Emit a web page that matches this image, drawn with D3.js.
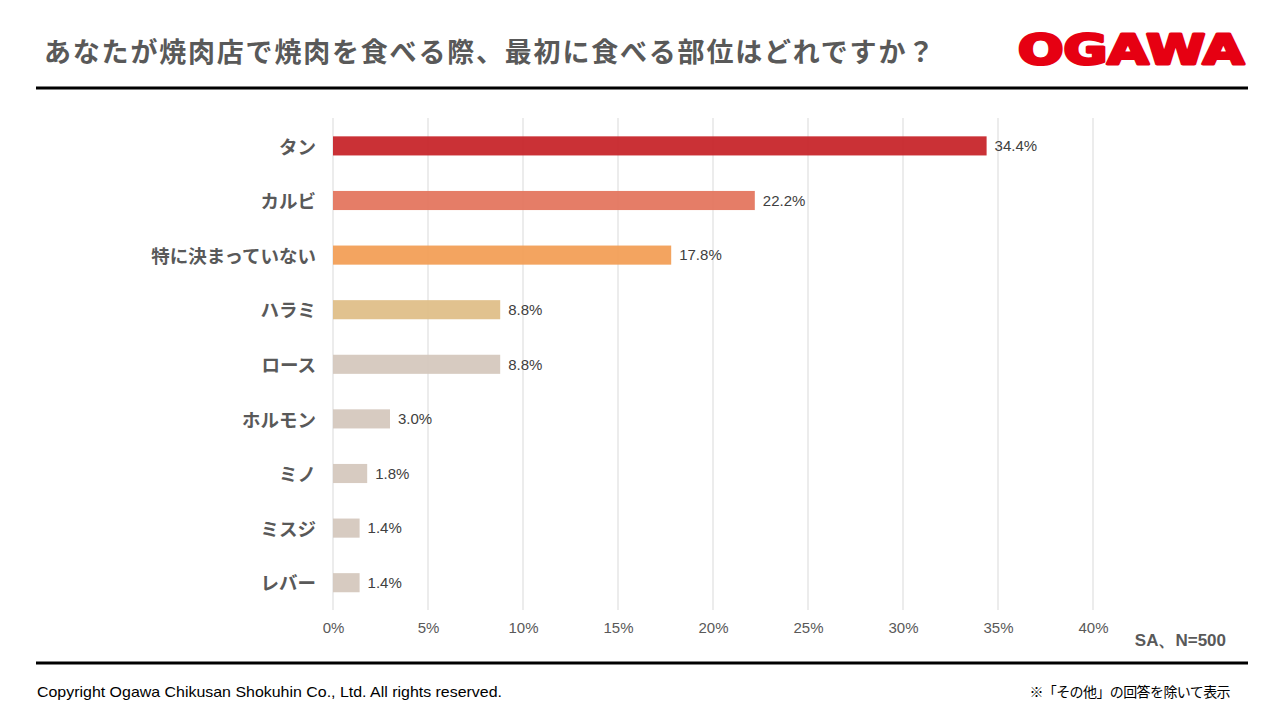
<!DOCTYPE html>
<html>
<head>
<meta charset="utf-8">
<script src="https://cdn.jsdelivr.net/npm/d3@7"></script>
<style>
body { margin: 0; background: #fff; }
svg { display: block; }
</style>
</head>
<body>
<svg id="chart" width="1280" height="720"></svg>
<script>
// data
var categories = ["タン", "カルビ", "特に決まっていない", "ハラミ", "ロース", "ホルモン", "ミノ", "ミスジ", "レバー"];
var values = [34.4, 22.2, 17.8, 8.8, 8.8, 3.0, 1.8, 1.4, 1.4];
var barColors = ["#C62025", "#E3725A", "#F29C52", "#DEBD85", "#D4C7BC", "#D4C7BC", "#D4C7BC", "#D4C7BC", "#D4C7BC"];
var xTicks = [0, 5, 10, 15, 20, 25, 30, 35, 40];

var title = "あなたが焼肉店で焼肉を食べる際、最初に食べる部位はどれですか？";
var copyright = "Copyright Ogawa Chikusan Shokuhin Co., Ltd. All rights reserved.";
var note = "※「その他」の回答を除いて表示";
var sample = "SA、N=500";

var jp = "'Noto Sans CJK JP', sans-serif";
var latin = "'Liberation Sans', Arial, sans-serif";

var svg = d3.select("#chart");

// header
svg.append("text")
	.attr("x", 44).attr("y", 62)
	.attr("font-family", jp).attr("font-weight", "bold")
	.attr("font-size", 27).attr("fill", "#595959")
	.attr("letter-spacing", 1.8)
	.text(title);

svg.append("text")
	.attr("x", 1018).attr("y", 64)
	.attr("font-family", "'DejaVu Sans', sans-serif").attr("font-weight", "bold")
	.attr("font-size", 41).attr("fill", "#E60012")
	.attr("stroke", "#E60012").attr("stroke-width", 3).attr("stroke-linejoin", "round")
	.attr("textLength", 226).attr("lengthAdjust", "spacingAndGlyphs")
	.text("OGAWA");

svg.append("line")
	.attr("x1", 36).attr("x2", 1248).attr("y1", 88).attr("y2", 88)
	.attr("stroke", "#000").attr("stroke-width", 3);
svg.append("line")
	.attr("x1", 36).attr("x2", 1248).attr("y1", 663).attr("y2", 663)
	.attr("stroke", "#000").attr("stroke-width", 3);

// scales
var x = d3.scaleLinear().domain([0, 40]).range([333, 1093]);
var y = d3.scaleBand().domain(categories).range([118.6, 610])
	.paddingInner(0.65).paddingOuter(0.325);

// grid
svg.append("g").selectAll("line")
	.data(xTicks).enter().append("line")
	.attr("x1", function(d){ return x(d); })
	.attr("x2", function(d){ return x(d); })
	.attr("y1", 118).attr("y2", 610)
	.attr("stroke", "#D9D9D9").attr("stroke-width", 1);

// bars
svg.append("g").selectAll("rect")
	.data(values).enter().append("rect")
	.attr("x", x(0))
	.attr("y", function(d, i){ return y(categories[i]); })
	.attr("width", function(d){ return x(d) - x(0); })
	.attr("height", y.bandwidth())
	.attr("fill", function(d, i){ return barColors[i]; })
	.attr("fill-opacity", 0.92);

// value labels
svg.append("g").selectAll("text")
	.data(values).enter().append("text")
	.attr("x", function(d){ return x(d) + 8; })
	.attr("y", function(d, i){ return y(categories[i]) + y.bandwidth() / 2; })
	.attr("dy", "0.35em")
	.attr("font-family", latin).attr("font-size", 15).attr("fill", "#404040")
	.text(function(d){ return d.toFixed(1) + "%"; });

// category axis
var yAxis = svg.append("g")
	.attr("transform", "translate(333,0)")
	.call(d3.axisLeft(y).tickSize(0).tickPadding(17));
yAxis.select(".domain").remove();
yAxis.selectAll("text")
	.attr("font-family", jp).attr("font-weight", "bold")
	.attr("font-size", 18.5).attr("fill", "#595959")
	.attr("dy", "0.42em");

// value axis
var xAxis = svg.append("g")
	.attr("transform", "translate(0,610)")
	.call(d3.axisBottom(x).tickValues(xTicks).tickSize(0).tickPadding(12)
		.tickFormat(function(d){ return d + "%"; }));
xAxis.select(".domain").remove();
xAxis.selectAll("text")
	.attr("font-family", latin).attr("font-size", 15).attr("fill", "#595959");

svg.append("text")
	.attr("x", 1226).attr("y", 646).attr("text-anchor", "end")
	.attr("font-family", latin).attr("font-weight", "bold")
	.attr("font-size", 17).attr("fill", "#595959")
	.text(sample);

// footer
svg.append("text")
	.attr("x", 37).attr("y", 697)
	.attr("font-family", latin).attr("font-size", 15).attr("fill", "#000")
	.attr("textLength", 465).attr("lengthAdjust", "spacingAndGlyphs")
	.text(copyright);
svg.append("text")
	.attr("x", 1230).attr("y", 697).attr("text-anchor", "end")
	.attr("font-family", jp).attr("font-size", 14).attr("fill", "#000")
	.attr("letter-spacing", -0.6)
	.text(note);
</script>
</body>
</html>
